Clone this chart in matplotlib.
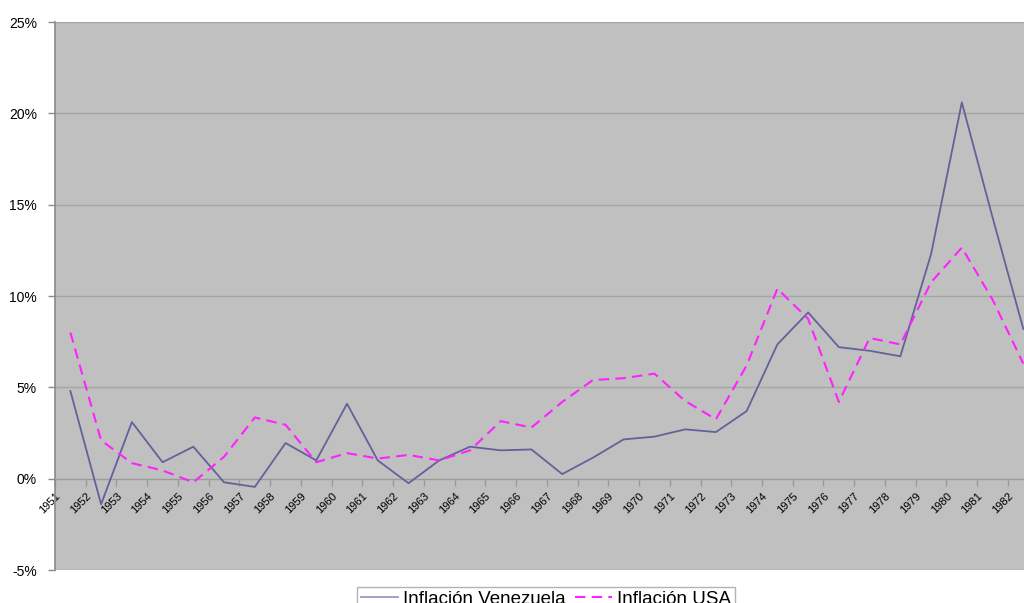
import matplotlib
matplotlib.use("Agg")
import matplotlib.pyplot as plt
import numpy as np
from matplotlib.ticker import FuncFormatter

plt.rcParams["font.family"] = ["Liberation Sans", "DejaVu Sans"]

YEARS = list(range(1951, 1983))

# annual inflation, percent
INFLACION_VENEZUELA = [
    4.8, -1.4, 3.1, 0.9, 1.75, -0.2, -0.45, 1.95, 1.0, 4.1,
    1.0, -0.25, 1.0, 1.75, 1.55, 1.6, 0.25, 1.15, 2.15, 2.3,
    2.7, 2.55, 3.7, 7.35, 9.1, 7.2, 7.0, 6.7, 12.3, 20.6,
    14.3, 8.2,
]
INFLACION_USA = [
    8.0, 2.1, 0.85, 0.45, -0.2, 1.2, 3.35, 2.95, 0.9, 1.4,
    1.1, 1.3, 1.0, 1.55, 3.15, 2.8, 4.2, 5.4, 5.5, 5.75,
    4.25, 3.25, 6.2, 10.4, 8.75, 4.2, 7.7, 7.35, 10.75, 12.65,
    9.8, 6.3,
]
Y_TICKS = [-5, 0, 5, 10, 15, 20, 25]

x = np.arange(len(YEARS))

fig = plt.figure(figsize=(10.24, 6.03), dpi=100)
ax = fig.add_axes([55 / 1024, 33 / 603, 32 * 30.74 / 1024, 548 / 603])
ax.set_facecolor("#c0c0c0")

ax.plot(x, INFLACION_VENEZUELA, color="#62629a", linewidth=1.3,
        label="Inflación Venezuela", zorder=3)
ax.plot(x, INFLACION_USA, color="#ff22ff", linewidth=1.5, dashes=(5, 3),
        label="Inflación USA", zorder=3)

ax.set_xlim(-0.5, len(YEARS) - 0.5)
ax.set_ylim(-5, 25)
ax.set_yticks(Y_TICKS)
ax.yaxis.set_major_formatter(FuncFormatter(lambda v, _: f"{v:.0f}%"))
ax.grid(axis="y", color="#a6a6a6", linewidth=1.0, zorder=1)
ax.set_axisbelow(True)

# category axis sits on the 0% line, tick marks between categories
ax.spines["bottom"].set_position(("data", 0))
ax.spines["bottom"].set_color("#9a9a9a")
ax.spines["top"].set_visible(False)
ax.spines["right"].set_visible(False)
ax.spines["left"].set_color("#8a8a8a")
ax.spines["left"].set_linewidth(1.2)
ax.set_xticks(x - 0.5)
ax.set_xticklabels([str(y) for y in YEARS])
ax.tick_params(axis="x", length=5, width=1, color="#9a9a9a", pad=3.5, labelsize=8)
ax.tick_params(axis="y", length=5, width=1, color="#8a8a8a", pad=8, labelsize=10)
plt.setp(ax.get_xticklabels(), rotation=45, ha="right", rotation_mode="anchor")

# legend box hangs off the bottom edge of the figure
leg = fig.legend(loc="upper center", bbox_to_anchor=(546 / 1024, 16 / 603),
                 ncol=2, frameon=True, fancybox=False, fontsize=13.5,
                 handlelength=2.0, handletextpad=0.27, columnspacing=0.45,
                 borderpad=0.2, borderaxespad=0)
leg.get_frame().set_edgecolor("#a0a0a0")
leg.get_frame().set_linewidth(1.0)
leg.get_lines()[0].set_color("#9a9ac0")

fig.savefig("out.png", dpi=100)
